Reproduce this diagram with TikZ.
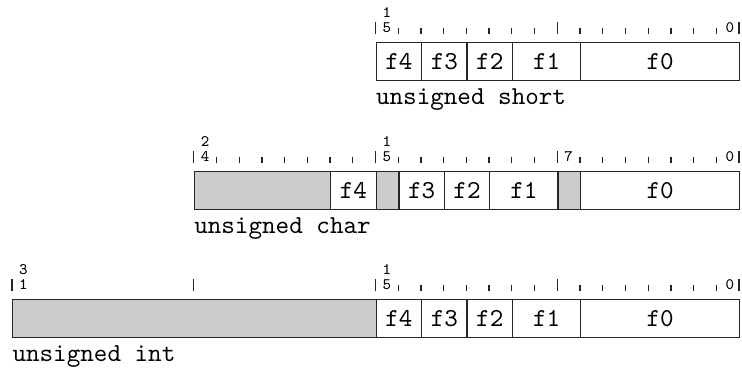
\documentclass[tikz,border=0pt]{standalone}
\usepackage{fontspec}
\begin{document}
\begin{tikzpicture}[x=0.3868pt,y=-0.3868pt,
  fieldbox/.style={draw=black!85, line width=0.5pt, minimum height=14.7pt, inner sep=0pt, anchor=north west, font=\ttfamily\fontsize{10}{12}\selectfont},
  padbox/.style={fieldbox, fill=black!20},
  tickline/.style={draw=black!85, line width=0.5pt},
  bitnum/.style={inner sep=0pt, font=\ttfamily\fontsize{6.2}{6.2}\selectfont},
  typelabel/.style={inner sep=0pt, anchor=base west, font=\ttfamily\fontsize{10}{12}\selectfont}]
\useasboundingbox (0,0) rectangle (742,369);
\def\bw{22.72}
\def\bwpt{8.788pt}
% ---------- row 1: unsigned short ----------
\def\T{42}
\foreach \k/\w/\n/\t/\s in {16/2/sa/f4/fieldbox,18/2/sb/f3/fieldbox,20/2/sc/f2/fieldbox,22/3/sd/f1/fieldbox,25/7/se/f0/fieldbox}
  \node[\s, minimum width=\w*\bwpt] (\n) at ({12+\k*\bw},\T) {\t};
\foreach \k in {17,...,23,25,26,...,31}
  \draw[tickline] ({12+\k*\bw},\T-14) -- ({12+\k*\bw},\T-8);
\foreach \k in {16,24,32}
  \draw[tickline] ({12+\k*\bw},\T-20) -- ({12+\k*\bw},\T-8);
\node[bitnum] (s15a) at ({12+16.5*\bw},\T-29) {1};
\node[bitnum] (s15b) at ({12+16.5*\bw},\T-14.5) {5};
\node[bitnum] (s0) at ({12+31.6*\bw},\T-14.5) {0};
\node[typelabel] (sl) at ({12+16*\bw},\T+63) {unsigned short};
% ---------- row 2: unsigned char ----------
\def\T{171}
\foreach \k/\w/\n/\t/\s in {8/6/ca//padbox,14/2/cb/f4/fieldbox,16/1/cc//padbox,17/2/cd/f3/fieldbox,19/2/ce/f2/fieldbox,21/3/cf/f1/fieldbox,24/1/cg//padbox,25/7/ch/f0/fieldbox}
  \node[\s, minimum width=\w*\bwpt] (\n) at ({12+\k*\bw},\T) {\t};
\foreach \k in {9,...,15,17,18,...,23,25,26,...,31}
  \draw[tickline] ({12+\k*\bw},\T-14) -- ({12+\k*\bw},\T-8);
\foreach \k in {8,16,24,32}
  \draw[tickline] ({12+\k*\bw},\T-20) -- ({12+\k*\bw},\T-8);
\node[bitnum] (c24a) at ({12+8.5*\bw},\T-29) {2};
\node[bitnum] (c24b) at ({12+8.5*\bw},\T-14.5) {4};
\node[bitnum] (c15a) at ({12+16.5*\bw},\T-29) {1};
\node[bitnum] (c15b) at ({12+16.5*\bw},\T-14.5) {5};
\node[bitnum] (c7) at ({12+24.5*\bw},\T-14.5) {7};
\node[bitnum] (c0) at ({12+31.6*\bw},\T-14.5) {0};
\node[typelabel] (cl) at ({12+8*\bw},\T+63) {unsigned char};
% ---------- row 3: unsigned int ----------
\def\T{299}
\foreach \k/\w/\n/\t/\s in {0/16/ia//padbox,16/2/ib/f4/fieldbox,18/2/ic/f3/fieldbox,20/2/id/f2/fieldbox,22/3/ie/f1/fieldbox,25/7/if/f0/fieldbox}
  \node[\s, minimum width=\w*\bwpt] (\n) at ({12+\k*\bw},\T) {\t};
\foreach \k in {17,...,23,25,26,...,31}
  \draw[tickline] ({12+\k*\bw},\T-14) -- ({12+\k*\bw},\T-8);
\foreach \k in {0,8,16,24,32}
  \draw[tickline] ({12+\k*\bw},\T-20) -- ({12+\k*\bw},\T-8);
\node[bitnum] (i31a) at ({12+0.5*\bw},\T-29) {3};
\node[bitnum] (i31b) at ({12+0.5*\bw},\T-14.5) {1};
\node[bitnum] (i15a) at ({12+16.5*\bw},\T-29) {1};
\node[bitnum] (i15b) at ({12+16.5*\bw},\T-14.5) {5};
\node[bitnum] (i0) at ({12+31.6*\bw},\T-14.5) {0};
\node[typelabel] (il) at ({12+0*\bw},\T+63) {unsigned int};
\end{tikzpicture}
\end{document}
